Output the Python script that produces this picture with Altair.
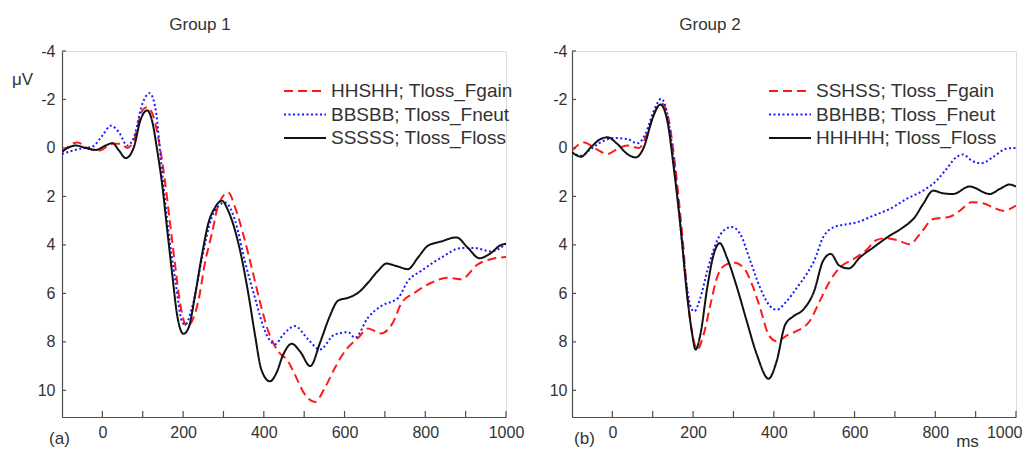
import altair as alt
import pandas as pd

FONT = "Liberation Sans"
TEXT = "#333333"
AXIS = "#4d4d4d"

# ---------------- Group 1 ----------------
g1_gain_t = [-100,-62,-33,-8,25,45,62,78,99,111,127,144,156,168,181,193,210,226,238,255,271,288,312,329,349,370,390,411,436,460,477,502,527,551,576,601,634,658,690,720,741,774,815,856,889,930,963,1000]
g1_gain_v = [0.18,-0.23,0.04,0.11,-0.17,-0.17,0.0,-0.3,-1.55,-1.68,-1.27,0.11,1.49,3.15,4.94,6.46,7.36,7.0,6.3,4.67,3.56,2.32,1.84,2.46,3.56,4.94,6.32,7.56,8.4,8.8,9.35,10.18,10.48,9.9,9.08,8.38,7.83,7.45,7.65,7.2,6.4,5.97,5.56,5.35,5.42,4.8,4.59,4.5]

g1_neut_t = [-100,-58,-25,0,21,41,62,78,99,117,131,148,165,181,197,205,222,247,271,288,304,329,353,378,403,428,448,477,510,539,575,609,626,658,691,733,757,790,840,889,922,963,1000]
g1_neut_v = [0.25,0.04,-0.05,-0.51,-0.92,-0.65,-0.1,-0.44,-1.82,-2.26,-1.68,1.0,3.6,5.5,7.15,7.29,6.6,4.53,2.87,2.39,2.25,3.0,4.67,6.18,7.56,8.1,7.7,7.35,7.9,8.32,7.7,7.6,7.83,7.0,6.52,6.18,5.49,5.07,4.52,4.13,4.13,4.27,3.95]

g1_loss_t = [-100,-66,-41,-16,8,25,41,58,78,94,111,123,136,148,160,173,185,201,214,230,247,263,279,296,312,329,345,362,378,394,415,431,448,469,490,515,540,562,584,609,634,658,683,704,730,757,782,806,839,877,905,934,959,988,1000]
g1_loss_v = [0.14,-0.1,0.0,0.08,-0.1,-0.2,0.1,0.42,-0.03,-1.13,-1.55,-1.13,0.11,1.49,3.28,5.2,6.87,7.67,7.4,6.05,4.39,3.08,2.46,2.18,2.6,3.42,4.53,6.05,7.7,9.15,9.63,9.29,8.53,8.08,8.4,9.0,8.0,7.0,6.3,6.18,5.97,5.56,5.07,4.77,4.88,5.0,4.52,4.04,3.86,3.69,4.11,4.55,4.38,4.0,3.95]

# ---------------- Group 2 ----------------
g2_gain_t = [-100,-70,-41,-12,12,37,66,86,111,123,140,156,173,189,202,210,226,243,259,276,300,325,346,366,387,407,436,456,489,514,539,563,597,630,654,679,704,737,762,795,836,861,890,918,943,968,1000]
g2_gain_v = [0.11,-0.23,0.04,0.25,0.04,-0.1,0.0,-0.58,-1.68,-1.82,-1.13,0.8,3.56,6.6,7.98,8.32,7.7,6.46,5.36,4.87,4.73,4.94,5.63,6.6,7.7,7.97,7.7,7.56,7.14,6.31,5.49,4.94,4.59,4.2,3.8,3.72,3.8,3.97,3.55,2.93,2.84,2.59,2.24,2.28,2.45,2.59,2.38]

g2_neut_t = [-100,-78,-53,-29,4,37,62,82,103,121,136,152,169,185,195,203,218,235,259,280,296,317,342,366,391,407,432,457,481,500,522,547,572,605,646,687,729,770,803,828,852,869,890,914,943,976,1000]
g2_neut_v = [0.18,0.32,0.04,-0.23,-0.41,-0.37,-0.19,-0.58,-1.55,-2.03,-1.41,0.52,3.28,5.77,6.6,6.74,6.18,5.08,3.84,3.35,3.26,3.56,4.67,5.77,6.53,6.67,6.32,5.77,5.21,4.66,3.69,3.28,3.17,3.07,2.8,2.52,2.1,1.76,1.35,0.86,0.38,0.27,0.52,0.63,0.38,0.03,0.0]

g2_loss_t = [-100,-78,-53,-33,-12,12,37,58,78,99,119,136,152,169,185,198,206,218,235,251,266,284,309,333,358,387,407,428,449,473,500,522,541,562,586,613,646,687,720,749,770,795,819,844,885,935,960,984,1000]
g2_loss_v = [0.18,0.36,-0.03,-0.33,-0.44,-0.17,0.25,0.39,-0.03,-1.2,-1.79,-1.13,0.8,3.28,6.05,7.7,8.32,7.7,5.77,4.39,3.93,4.53,5.77,7.15,8.53,9.52,8.8,7.3,6.94,6.67,5.9,4.66,4.37,4.85,4.97,4.52,4.11,3.62,3.28,2.86,2.31,1.76,1.87,1.9,1.59,1.9,1.69,1.51,1.59]

names1 = ["HHSHH; Tloss_Fgain", "BBSBB; Tloss_Fneut", "SSSSS; Tloss_Floss"]
names2 = ["SSHSS; Tloss_Fgain", "BBHBB; Tloss_Fneut", "HHHHH; Tloss_Floss"]
colors = ["#ff1a1a", "#1a1aff", "#111111"]
dashes = [[9, 5], [2, 2.5], [1, 0]]

x_ticks = list(range(0, 1001, 100))
x_labels = list(range(0, 1001, 200))
y_ticks = [-4, -2, 0, 2, 4, 6, 8, 10]
X_DOMAIN = [-100, 1000]
Y_DOMAIN = [-4, 11.1]
W, H = 444, 366


def frame(names, series):
    rows = []
    for name, (ts, vs) in zip(names, series):
        for t, v in zip(ts, vs):
            rows.append({"series": name, "t": t, "v": v})
    return pd.DataFrame(rows)


def panel(df, names, title, ytitle, ytx, yty, xtitle, xtx, xty, legend_x, label_pad, flush):
    xs = alt.Scale(domain=X_DOMAIN, nice=False, zero=False)
    ys = alt.Scale(domain=Y_DOMAIN, reverse=True, nice=False, zero=False)
    xaxis = alt.Axis(
        values=x_labels, ticks=False, grid=False, domainColor=AXIS, domainWidth=1.2,
        labelExpr="'' + datum.value", labelFont=FONT, labelFontSize=16, labelColor=TEXT,
        labelPadding=7, labelFlush=flush, labelFlushOffset=6 if flush else 0,
        labelOverlap=False,
        title=xtitle, titleX=xtx, titleY=xty, titleAlign="center", titleBaseline="middle",
        titleFont=FONT, titleFontSize=17, titleFontWeight="normal", titleColor=TEXT,
    )
    yaxis = alt.Axis(
        values=y_ticks, ticks=False, grid=False, domainColor=AXIS, domainWidth=1.2,
        labelExpr="'' + datum.value", labelFont=FONT, labelFontSize=16, labelColor=TEXT,
        labelPadding=label_pad, labelFlush=False, labelOverlap=False,
        title=ytitle, titleAngle=0, titleX=ytx, titleY=yty, titleAlign="center",
        titleBaseline="middle", titleFont=FONT, titleFontSize=17, titleFontWeight="normal",
        titleColor=TEXT,
    )
    leg = alt.Legend(
        title=None, orient="none", legendX=legend_x, legendY=31, symbolType="stroke",
        symbolSize=1764, symbolStrokeWidth=2, labelFont=FONT, labelFontSize=19,
        labelColor=TEXT, labelOffset=4, labelLimit=400, clipHeight=18, rowPadding=4.5,
        padding=0, symbolOffset=0,
    )
    lines = alt.Chart(df).mark_line(strokeWidth=2, interpolate="monotone", clip=True).encode(
        x=alt.X("t:Q", scale=xs, axis=xaxis),
        y=alt.Y("v:Q", scale=ys, axis=yaxis),
        color=alt.Color("series:N", scale=alt.Scale(domain=names, range=colors), legend=leg),
        strokeDash=alt.StrokeDash("series:N", scale=alt.Scale(domain=names, range=dashes), legend=leg),
    )
    xt = alt.Chart(pd.DataFrame({"t": x_ticks})).mark_rule(color=AXIS, strokeWidth=1.2).encode(
        x=alt.X("t:Q", scale=xs, axis=xaxis), y=alt.value(H), y2=alt.value(H - 6)
    )
    yt = alt.Chart(pd.DataFrame({"v": y_ticks})).mark_rule(color=AXIS, strokeWidth=1.2).encode(
        y=alt.Y("v:Q", scale=ys, axis=yaxis), x=alt.value(0), x2=alt.value(4)
    )
    return alt.layer(lines, xt, yt).properties(
        width=W, height=H,
        title=alt.TitleParams(text=title, anchor="middle", dx=-84, font=FONT, fontSize=17,
                              fontWeight="normal", color=TEXT, offset=9),
    )


df1 = frame(names1, [(g1_gain_t, g1_gain_v), (g1_neut_t, g1_neut_v), (g1_loss_t, g1_loss_v)])
df2 = frame(names2, [(g2_gain_t, g2_gain_v), (g2_neut_t, g2_neut_v), (g2_loss_t, g2_loss_v)])

p1 = panel(df1, names1, "Group 1", "μV", -40, 28, "(a)", -3, 21, 221, 7, False)
p2 = panel(df2, names2, "Group 2", "(b)", 12, 387, "ms", 395, 24, 196, 5, True)

chart = alt.hconcat(p1, p2, spacing=66, bounds="flush").resolve_scale(
    color="independent", strokeDash="independent"
).configure_view(stroke=None).configure(background="white").properties(
    padding={"left": 10, "top": 15, "right": 2, "bottom": 2}
)

chart.save("out.html", embed_options={"renderer": "svg", "actions": False})
